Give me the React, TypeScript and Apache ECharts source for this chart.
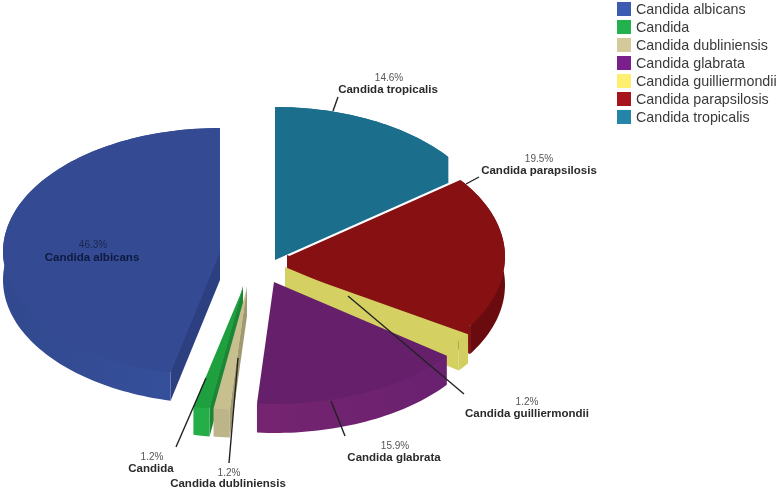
import React, { useEffect, useRef } from "react";
import * as echarts from "echarts";

const categories = [
  "Candida albicans",
  "Candida",
  "Candida dubliniensis",
  "Candida glabrata",
  "Candida guilliermondii",
  "Candida parapsilosis",
  "Candida tropicalis",
];
const percents = [46.3, 1.2, 1.2, 15.9, 1.2, 19.5, 14.6];
const legendColors = ["#3d5bb0", "#22b14c", "#d4c99a", "#7b1f8c", "#ffef70", "#a6141c", "#2585a8"];

// Look of every slice: top face, outer rim (left and right stops), radial faces
const topColors = ["#344b93", "#1fa03f", "#c8bf8e", "#66206b", "#d4d062", "#871013", "#1b6e8c"];
const rimColors = [
  ["#31498e", "#36519e"], ["#25ad48", "#25ad48"], ["#bdb58a", "#bdb58a"], ["#752470", "#6a2170"],
  ["#d2ce60", "#d2ce60"], ["#6a0c0f", "#6a0c0f"], ["#1b6e8c", "#1b6e8c"],
];
const faceColors = ["#2c3f80", "#1b8635", "#a09a72", "#66206b", "#d4d062", "#871013", "#1b6e8c"];

// Exploded placement of every slice: [apex x, apex y, radius x, radius y, depth, stacking]
const placement = [
  [220, 252, 217, 124, 28, 5],
  [243, 288, 218, 122, 28, 6],
  [247, 288, 218, 122, 28, 7],
  [274, 282, 217, 122, 29, 4],
  [285, 269, 218, 120, 29, 3],
  [287, 257, 218, 127, 28, 2],
  [275, 234, 218, 127, 26, 1],
];

// Label layout: [percent x, percent y, name x, name y, leader x1, y1, x2, y2]
const labelLayout = [
  [93, 244, 92, 257, 0, 0, 0, 0],
  [152, 456, 151, 468, 176, 447, 206, 378],
  [229, 472, 228, 483, 229, 463, 238, 358],
  [395, 445, 394, 457, 345, 436, 331, 401],
  [527, 401, 527, 413, 464, 394, 348, 296],
  [539, 158, 539, 170, 479, 177, 466, 184],
  [389, 77, 388, 89, 338, 97, 333, 111],
];

const FONT = '"Liberation Sans", Arial, sans-serif';

function App() {
  const ref = useRef<HTMLDivElement>(null);
  useEffect(() => {
    const chart = echarts.init(ref.current!, undefined, { renderer: "svg" });

    // Slices run counter-clockwise from 12 o'clock; angles here are measured clockwise from the top.
    const total = percents.reduce((a, b) => a + b, 0);
    const spans: number[][] = [];
    let used = 0;
    percents.forEach((p) => {
      const startCcw = (used / total) * 360;
      used += p;
      const endCcw = (used / total) * 360;
      spans.push([360 - endCcw, 360 - startCcw]);
    });

    const series = categories.map((name, i) => ({
      type: "custom",
      name,
      coordinateSystem: "none",
      z: placement[i][5] + 1,
      silent: true,
      itemStyle: { color: legendColors[i] },
      data: [percents[i]],
      renderItem: () => {
        const [cx, cy, rx, ry, depth] = placement[i];
        const [a0, a1] = spans[i];
        const pts: number[][] = [];
        const angles: number[] = [];
        const n = Math.max(2, Math.ceil((a1 - a0) / 1.5));
        for (let k = 0; k <= n; k++) {
          const t = ((a0 + ((a1 - a0) * k) / n) * Math.PI) / 180;
          angles.push(t);
          pts.push([cx + rx * Math.sin(t), cy - ry * Math.cos(t)]);
        }
        const down = (p: number[]) => [p[0], p[1] + depth];
        const up = (p: number[]) => [p[0], p[1] - 2];
        const first = pts[0];
        const last = pts[pts.length - 1];
        const apex = [cx, cy];
        // Hidden part of a radial face, tucked under the top face so no seam shows.
        const tuck = (p: number[]) => up([cx + (p[0] - cx) * 0.97, cy + (p[1] - cy) * 0.97]);
        const children: any[] = [];
        const firstShows = Math.sin((a0 * Math.PI) / 180) < -1e-6;
        const lastShows = Math.sin((a1 * Math.PI) / 180) > 1e-6;
        if (firstShows) {
          children.push({
            type: "polygon",
            shape: { points: [up(apex), tuck(first), first, down(first), down(apex)] },
            style: { fill: faceColors[i] },
          });
        }
        if (lastShows) {
          children.push({
            type: "polygon",
            shape: { points: [up(apex), tuck(last), last, down(last), down(apex)] },
            style: { fill: faceColors[i] },
          });
        }
        const rimUpper = pts.map((p, k) => (k > 0 && k < n && Math.cos(angles[k]) < -0.05 ? up(p) : p));
        children.push({
          type: "polygon",
          shape: { points: rimUpper.concat(pts.slice().reverse().map(down)) },
          style: {
            fill: {
              type: "linear", x: 0, y: 0, x2: 1, y2: 0,
              colorStops: [
                { offset: 0, color: rimColors[i][0] },
                { offset: 1, color: rimColors[i][1] },
              ],
            },
          },
        });
        children.push({
          type: "polygon",
          shape: { points: [apex, ...pts] },
          style: { fill: topColors[i] },
        });
        return { type: "group", children };
      },
    }));

    const graphicElements: any[] = [];
    categories.forEach((name, i) => {
      const [px, py, nx, ny, x1, y1, x2, y2] = labelLayout[i];
      if (x1 || x2) {
        graphicElements.push({
          type: "line",
          z: 20,
          shape: { x1, y1, x2, y2 },
          style: { stroke: "#222222", lineWidth: 1.4 },
        });
      }
      const inside = i === 0;
      graphicElements.push({
        type: "text",
        z: 21,
        x: px,
        y: py,
        style: {
          text: `${percents[i]}%`,
          font: `10px ${FONT}`,
          fill: inside ? "#1c2650" : "#555555",
          align: "center",
          verticalAlign: "middle",
        },
      });
      graphicElements.push({
        type: "text",
        z: 21,
        x: nx,
        y: ny,
        style: {
          text: name,
          font: `bold 11.5px ${FONT}`,
          fill: inside ? "#0e1a40" : "#2a2a2a",
          align: "center",
          verticalAlign: "middle",
        },
      });
    });

    chart.setOption({
      animation: false,
      backgroundColor: "#ffffff",
      legend: {
        data: categories,
        orient: "vertical",
        left: 612,
        top: -3,
        itemWidth: 14,
        itemHeight: 14,
        itemGap: 4,
        icon: "rect",
        selectedMode: false,
        textStyle: { fontFamily: FONT, fontSize: 14.3, lineHeight: 14, color: "#3a3a3a" },
      },
      series,
      graphic: { elements: graphicElements },
    } as any);
    return () => chart.dispose();
  }, []);
  return (
    <div
      ref={ref}
      style={{ position: "absolute", left: 0, top: 0, width: 778, height: 489, filter: "blur(0.35px)" }}
    />
  );
}

export default App;
